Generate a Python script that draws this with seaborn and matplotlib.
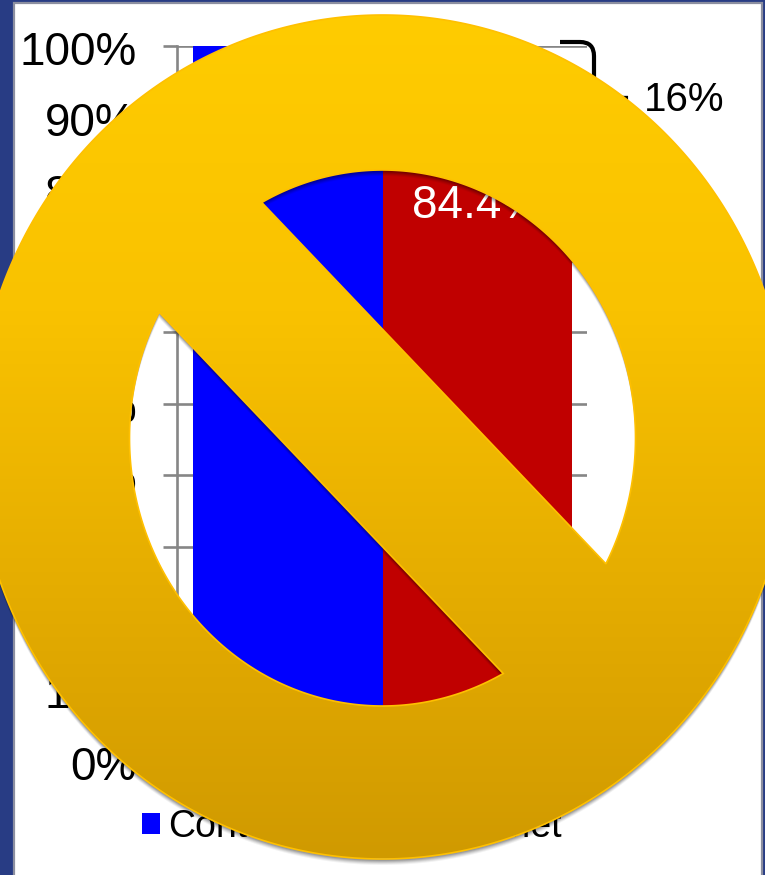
import numpy as np
import pandas as pd
import seaborn as sns
import matplotlib.pyplot as plt
from matplotlib.path import Path
from matplotlib.patches import PathPatch, Rectangle
from matplotlib.colors import LinearSegmentedColormap
from matplotlib.transforms import ScaledTranslation

# datos
categories = ['Control', 'Antiplatelet']
values = [100, 84.4]
colors = ['#0000FF', '#C00000']
yticks = [0, 10, 20, 30, 40, 50, 60, 70, 80, 90, 100]
ytick_labels = ['0%', '10%', '20%', '30%', '40%', '50%', '60%', '70%', '80%', '90%', '100%']
bar_text = '84.4%'
bracket_text = '16%'

W, H = 765, 875
GREY = '#868686'

sns.set_theme(style='white')
plt.rcParams['font.family'] = ['Liberation Sans', 'DejaVu Sans']

fig = plt.figure(figsize=(W / 100, H / 100), dpi=100, facecolor='#283C84')

# fondo blanco con borde gris
back = fig.add_axes([0, 0, 1, 1], zorder=0)
back.set_xlim(0, W)
back.set_ylim(H, 0)
back.axis('off')
back.add_patch(Rectangle((14, 3), 748, H, facecolor='white', edgecolor='#8C8FA0', lw=1.6))

# grafico de barras
ax = fig.add_axes([177 / W, 1 - 761 / H, 410 / W, 714.5 / H], zorder=1)
ax.patch.set_alpha(0)
df = pd.DataFrame({'grupo': categories, 'valor': values})
sns.barplot(data=df, x='grupo', y='valor', hue='grupo', palette=colors, width=1,
            dodge=False, legend=False, ax=ax, zorder=3, saturation=1, edgecolor='none')
ax.set_xlim(-0.586, 1.578)
ax.set_ylim(0, 100)
ax.set_xlabel('')
ax.set_ylabel('')
ax.set_xticks([])
ax.set_yticks(yticks)
ax.set_yticklabels(ytick_labels, fontsize=33, color='black')
ax.tick_params(axis='y', left=True, length=10, width=1.9, color=GREY, pad=19)
ax.grid(axis='y', color=GREY, lw=1.9, zorder=0)
ax.set_axisbelow(True)
for side_name in ['top', 'right']:
    ax.spines[side_name].set_visible(False)
for side_name in ['left', 'bottom']:
    ax.spines[side_name].set_color(GREY)
    ax.spines[side_name].set_linewidth(1.9)
offset = ScaledTranslation(0, -1.5 / 100, fig.dpi_scale_trans)
for lab in ax.get_yticklabels():
    lab.set_transform(lab.get_transform() + offset)

ax.text(1, 77.7, bar_text, color='white', fontsize=33, ha='center', va='center', zorder=5)

# la leyenda va en el eje para que la senal quede por encima
handles = [Rectangle((0, 0), 1, 1, facecolor=c, edgecolor='none') for c in colors]
ax.legend(handles, categories, loc='center left', bbox_to_anchor=(108 / W, 1 - 827 / H),
          bbox_transform=fig.transFigure, ncols=2, frameon=False, fontsize=27, handlelength=0.48,
          handleheight=0.5, handletextpad=0.22, columnspacing=1.65, labelcolor='black')

# capa delantera: llave y senal de prohibido
front = fig.add_axes([0, 0, 1, 1], zorder=2)
front.set_xlim(0, W)
front.set_ylim(H, 0)
front.axis('off')
front.patch.set_alpha(0)

brace = Path([(560, 42), (580, 42), (594, 42), (594, 56), (594, 85), (594, 98), (628, 98),
              (594, 98), (594, 112), (594, 144), (594, 158), (560, 158)],
             [Path.MOVETO, Path.LINETO, Path.CURVE3, Path.CURVE3, Path.LINETO, Path.CURVE3, Path.CURVE3,
              Path.CURVE3, Path.CURVE3, Path.LINETO, Path.CURVE3, Path.CURVE3])
front.add_patch(PathPatch(brace, fill=False, edgecolor='black', lw=3, zorder=1))
front.text(684, 100, bracket_text, fontsize=29, color='black', ha='center', va='center', zorder=1)

cx, cy = 382.5, 437
t = np.linspace(0, 2 * np.pi, 721)
outer = np.column_stack([cx + 407 * np.cos(t), cy + 422 * np.sin(t)])
inner = np.column_stack([cx + 253 * np.cos(t), 438 + 268 * np.sin(t)])[::-1]


def side(p, x0, y0, x1, y1):
    return (x1 - x0) * (p[:, 1] - y0) - (y1 - y0) * (p[:, 0] - x0)


# los dos trozos del hueco, a cada lado de la banda diagonal
up = side(inner, 260, 203, 605, 564) < 0
low = side(inner, 159, 312, 505, 675) > 0
hole_a = np.roll(inner, -np.argmax(np.diff(up.astype(int)) == 1) - 1, axis=0)
hole_a = hole_a[side(hole_a, 260, 203, 605, 564) < 0]
hole_b = np.roll(inner, -np.argmax(np.diff(low.astype(int)) == 1) - 1, axis=0)
hole_b = hole_b[side(hole_b, 159, 312, 505, 675) > 0]

verts, codes = [], []
for ring in [outer, hole_a, hole_b]:
    verts += list(ring) + [ring[0]]
    codes += [Path.MOVETO] + [Path.LINETO] * (len(ring) - 1) + [Path.CLOSEPOLY]
sign = Path(np.array(verts), codes)

# sombra difusa bajo la senal
for dy, a in [(6, 0.05), (5, 0.07), (4, 0.09), (3, 0.11), (2, 0.13)]:
    shadow = Path(sign.vertices + [0, dy], sign.codes)
    front.add_patch(PathPatch(shadow, facecolor='black', edgecolor='none', alpha=a, zorder=2))

cmap = LinearSegmentedColormap.from_list('oro', [(0, '#FFCC00'), (0.35, '#F9C200'), (0.66, '#E6AE00'),
                                                 (0.82, '#DCA400'), (1, '#D09A00')])
img = front.imshow(np.linspace(0, 1, 256)[:, None], cmap=cmap, extent=(-50, W + 50, 858, 15),
                   aspect='auto', zorder=3)
img.set_clip_path(PathPatch(sign, transform=front.transData))
front.set_xlim(0, W)
front.set_ylim(H, 0)
front.add_patch(PathPatch(sign, fill=False, edgecolor='#FFC000', lw=1.2, zorder=4))

fig.savefig('out.png', dpi=100, facecolor=fig.get_facecolor())
